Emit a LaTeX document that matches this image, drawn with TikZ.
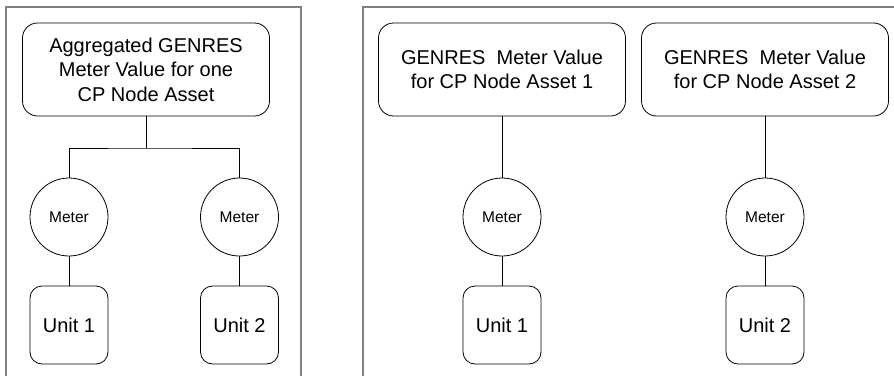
\documentclass[tikz,border=0pt]{standalone}
\usepackage{fontspec}
\setmainfont{Liberation Sans}
\begin{document}
\begin{tikzpicture}[x=1pt,y=-1pt,
  frame/.style={draw=black!50, line width=1.5pt},
  bigbox/.style={draw, line width=0.8pt, rounded corners=15pt, minimum width=247pt, minimum height=93pt, align=center, font=\fontsize{20}{24.5}\selectfont, inner sep=0pt},
  meterc/.style={draw, line width=0.8pt, circle, minimum size=78pt, inner sep=0pt, font=\fontsize{15.5}{18}\selectfont},
  unitbox/.style={draw, line width=0.8pt, rounded corners=12pt, minimum width=78pt, minimum height=78pt, inner sep=0pt, font=\fontsize{20}{24}\selectfont},
  conn/.style={draw, line width=0.8pt}]
\useasboundingbox (0,0) rectangle (894,375);
% frames
\draw[frame] (6,376) -- (6,7) -- (301,7) -- (301,376);
\draw[frame] (363,376) -- (363,7) -- (895,7);
% left panel
\node[bigbox] (agg) at (146,69.5) {Aggregated GENRES\\Meter Value for one\\CP Node Asset};
\node[meterc] (m1) at (69,217) {Meter};
\node[meterc] (m2) at (239.5,217) {Meter};
\node[unitbox] (u1) at (69,325) {Unit 1};
\node[unitbox] (u2) at (239.5,325) {Unit 2};
\coordinate (j) at (146,148);
\draw[conn] (agg.south) -- (j);
\draw[conn] (m1.north) |- (j) -| (m2.north);
\draw[conn] (m1) -- (u1);
\draw[conn] (m2) -- (u2);
% right panel
\node[bigbox] (b1) at (502,69.5) {GENRES\ \ Meter Value\\for CP Node Asset 1};
\node[bigbox] (b2) at (765,69.5) {GENRES\ \ Meter Value\\for CP Node Asset 2};
\node[meterc] (m3) at (502,217) {Meter};
\node[meterc] (m4) at (765,217) {Meter};
\node[unitbox] (u3) at (502,325) {Unit 1};
\node[unitbox] (u4) at (765,325) {Unit 2};
\draw[conn] (b1) -- (m3);
\draw[conn] (m3) -- (u3);
\draw[conn] (b2) -- (m4);
\draw[conn] (m4) -- (u4);
\end{tikzpicture}
\end{document}
